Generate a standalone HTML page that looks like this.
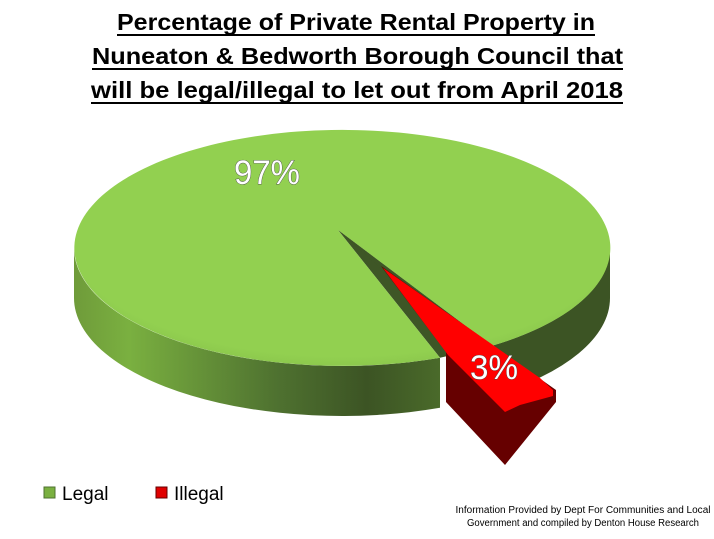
<!DOCTYPE html>
<html><head><style>body{margin:0;background:#fff}svg{display:block}</style></head><body>
<svg width="714" height="539" viewBox="0 0 714 539" xmlns="http://www.w3.org/2000/svg" font-family="Liberation Sans, sans-serif">
<defs>
<linearGradient id="side" x1="0" x2="1" y1="0" y2="0">
<stop offset="0" stop-color="#6f9b3a"/><stop offset="0.15" stop-color="#7ab040"/><stop offset="0.55" stop-color="#4f7230"/><stop offset="0.8" stop-color="#3c5424"/><stop offset="1" stop-color="#4a6a2a"/>
</linearGradient>
<radialGradient id="top" cx="0.5" cy="0.45" r="0.6">
<stop offset="0.85" stop-color="#92d050"/><stop offset="1" stop-color="#86c04a"/>
</radialGradient>
</defs>
<g font-weight="bold" font-size="23" text-anchor="start" fill="#000">
<text x="117" y="30" textLength="478" lengthAdjust="spacingAndGlyphs">Percentage of Private Rental Property in</text>
<text x="92" y="64" textLength="531" lengthAdjust="spacingAndGlyphs">Nuneaton &amp; Bedworth Borough Council that</text>
<text x="91" y="98" textLength="532" lengthAdjust="spacingAndGlyphs">will be legal/illegal to let out from April 2018</text>
</g>
<rect x="117" y="34" width="478" height="2"/>
<rect x="92" y="68" width="531" height="2"/>
<rect x="91" y="102" width="532" height="2"/>
<!-- green side -->
<path d="M74,248 A268,118 0 0 0 440,357.8 L440,407.8 A268,118 0 0 1 74,298 Z" fill="url(#side)"/>
<path d="M492,345.8 A268,118 0 0 0 610,248 L610,298 A268,118 0 0 1 492,395.8 Z" fill="#3c5424"/>
<!-- wedge shadow -->
<polygon points="338,230 492,345.8 440,357.8" fill="#3e5626"/>
<!-- green top -->
<path d="M338,230 L440,357.8 A268,118 0 1 1 492,345.8 Z" fill="url(#top)"/>
<polygon points="338,230 492,345.8 470,349" fill="#3e5626"/>
<!-- red slice -->
<polygon points="381,266 446,352 446,402 505,465 556,402 556,390 381,266" fill="#660000"/>
<polygon points="383,268 540,378 553,390 553,396 520,405 505,412 448,355" fill="#ff0000"/>
<g font-size="34" fill="#fff" stroke="#444" stroke-width="0.8" paint-order="stroke">
<text x="234" y="184" textLength="66" lengthAdjust="spacingAndGlyphs">97%</text>
<text x="470" y="379" textLength="48" lengthAdjust="spacingAndGlyphs">3%</text>
</g>
<!-- legend -->
<rect x="44" y="487" width="11" height="11" fill="#7ab040" stroke="#4f7230"/>
<text x="62" y="500" font-size="19">Legal</text>
<rect x="156" y="487" width="11" height="11" fill="#e00000" stroke="#660000"/>
<text x="174" y="500" font-size="19">Illegal</text>
<g font-size="10" text-anchor="middle" fill="#000">
<text x="583" y="513" textLength="255" lengthAdjust="spacingAndGlyphs">Information Provided by Dept For Communities and Local</text>
<text x="583" y="526" textLength="232" lengthAdjust="spacingAndGlyphs">Government and compiled by Denton House Research</text>
</g>
</svg>
</body></html>
